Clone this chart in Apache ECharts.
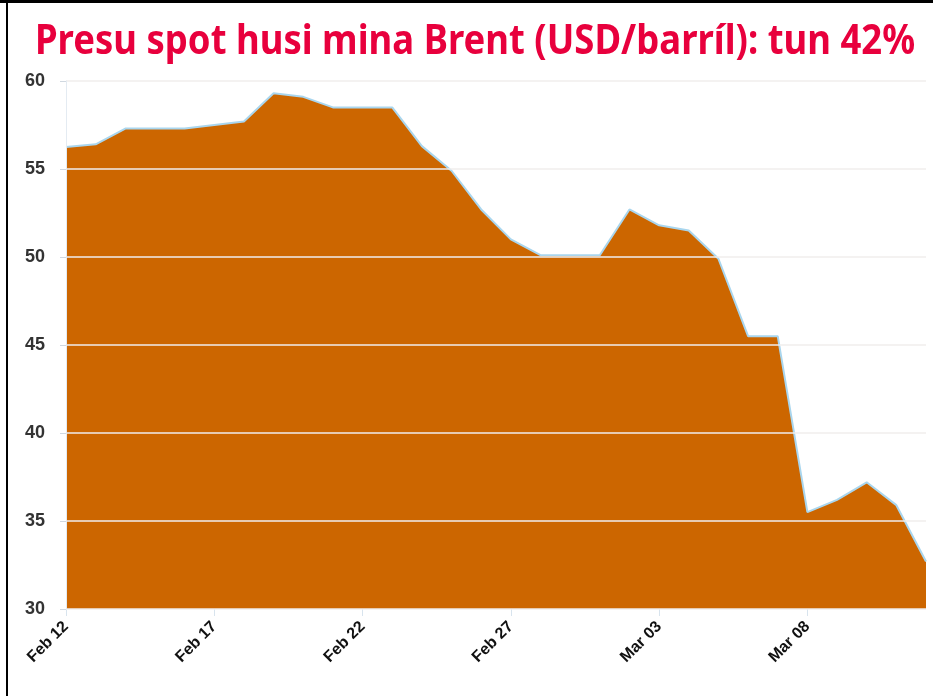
<!DOCTYPE html>
<html>
<head>
<meta charset="utf-8">
<script src="https://cdn.jsdelivr.net/npm/echarts@6/dist/echarts.min.js"></script>
<style>
html,body{margin:0;padding:0;background:#fff;}
#chart{width:933px;height:696px;}
</style>
</head>
<body>
<div id="chart"></div>
<script>
const categories = ['Feb 12','Feb 13','Feb 14','Feb 15','Feb 16','Feb 17','Feb 18','Feb 19','Feb 20','Feb 21',
  'Feb 22','Feb 23','Feb 24','Feb 25','Feb 26','Feb 27','Feb 28','Feb 29','Mar 01','Mar 02',
  'Mar 03','Mar 04','Mar 05','Mar 06','Mar 07','Mar 08','Mar 09','Mar 10','Mar 11','Mar 12'];
const prices = [56.25,56.4,57.3,57.3,57.3,57.5,57.7,59.3,59.1,58.5,
  58.5,58.5,56.3,54.9,52.7,51.0,50.1,50.1,50.1,52.7,
  51.8,51.5,49.9,45.5,45.5,35.5,36.2,37.2,35.9,32.7];
const titleText = 'Presu spot husi mina Brent (USD/barríl): tun 42%';
const yMin = 30, yMax = 60, yStep = 5;

const chart = echarts.init(document.getElementById('chart'), null, {renderer:'canvas'});
chart.setOption({
  animation: false,
  backgroundColor: '#ffffff',
  graphic: [
    {type:'rect', shape:{x:0,y:0,width:933,height:3}, style:{fill:'#000'}, z:100},
    {type:'rect', shape:{x:6,y:0,width:2,height:696}, style:{fill:'#000'}, z:100},
    {type:'text', x:475, y:22, scaleX:0.89, z:100,
      style:{text:titleText, fill:'#E8003D', font:'bold 41px "Noto Sans", sans-serif',
        textAlign:'center', textVerticalAlign:'top'}}
  ],
  grid: {left: 66, right: 7, top: 81, bottom: 87},
  xAxis: {
    type: 'category',
    data: categories,
    boundaryGap: false,
    axisLine: {show: false},
    axisTick: {show: true, alignWithLabel: true, interval: 4, length: 7, lineStyle:{color:'#d8e4ee'}},
    axisLabel: {
      interval: 4, rotate: 45, margin: 15,
      color: '#111', fontWeight: 'bold', fontSize: 16,
      fontFamily: '"Liberation Sans", Arial, sans-serif'
    },
    splitLine: {show: false}
  },
  yAxis: {
    type: 'value',
    min: yMin, max: yMax, interval: yStep,
    z: 5,
    axisLine: {show: true, lineStyle:{color:'#e4ebf2', width:1}},
    axisTick: {show: true, length: 6, lineStyle:{color:'#d0d8e0'}},
    axisLabel: {
      color: '#333', fontWeight: 'bold', fontSize: 18, margin: 21,
      fontFamily: '"Liberation Sans", Arial, sans-serif'
    },
    splitLine: {show: true, lineStyle:{color:'rgba(240,238,236,0.75)', width:2}}
  },
  series: [{
    type: 'line',
    data: prices,
    symbol: 'none',
    smooth: false,
    lineStyle: {color: '#A9D6EE', width: 2},
    areaStyle: {color: '#CC6600', opacity: 1},
    z: 2
  }]
});
</script>
</body>
</html>
